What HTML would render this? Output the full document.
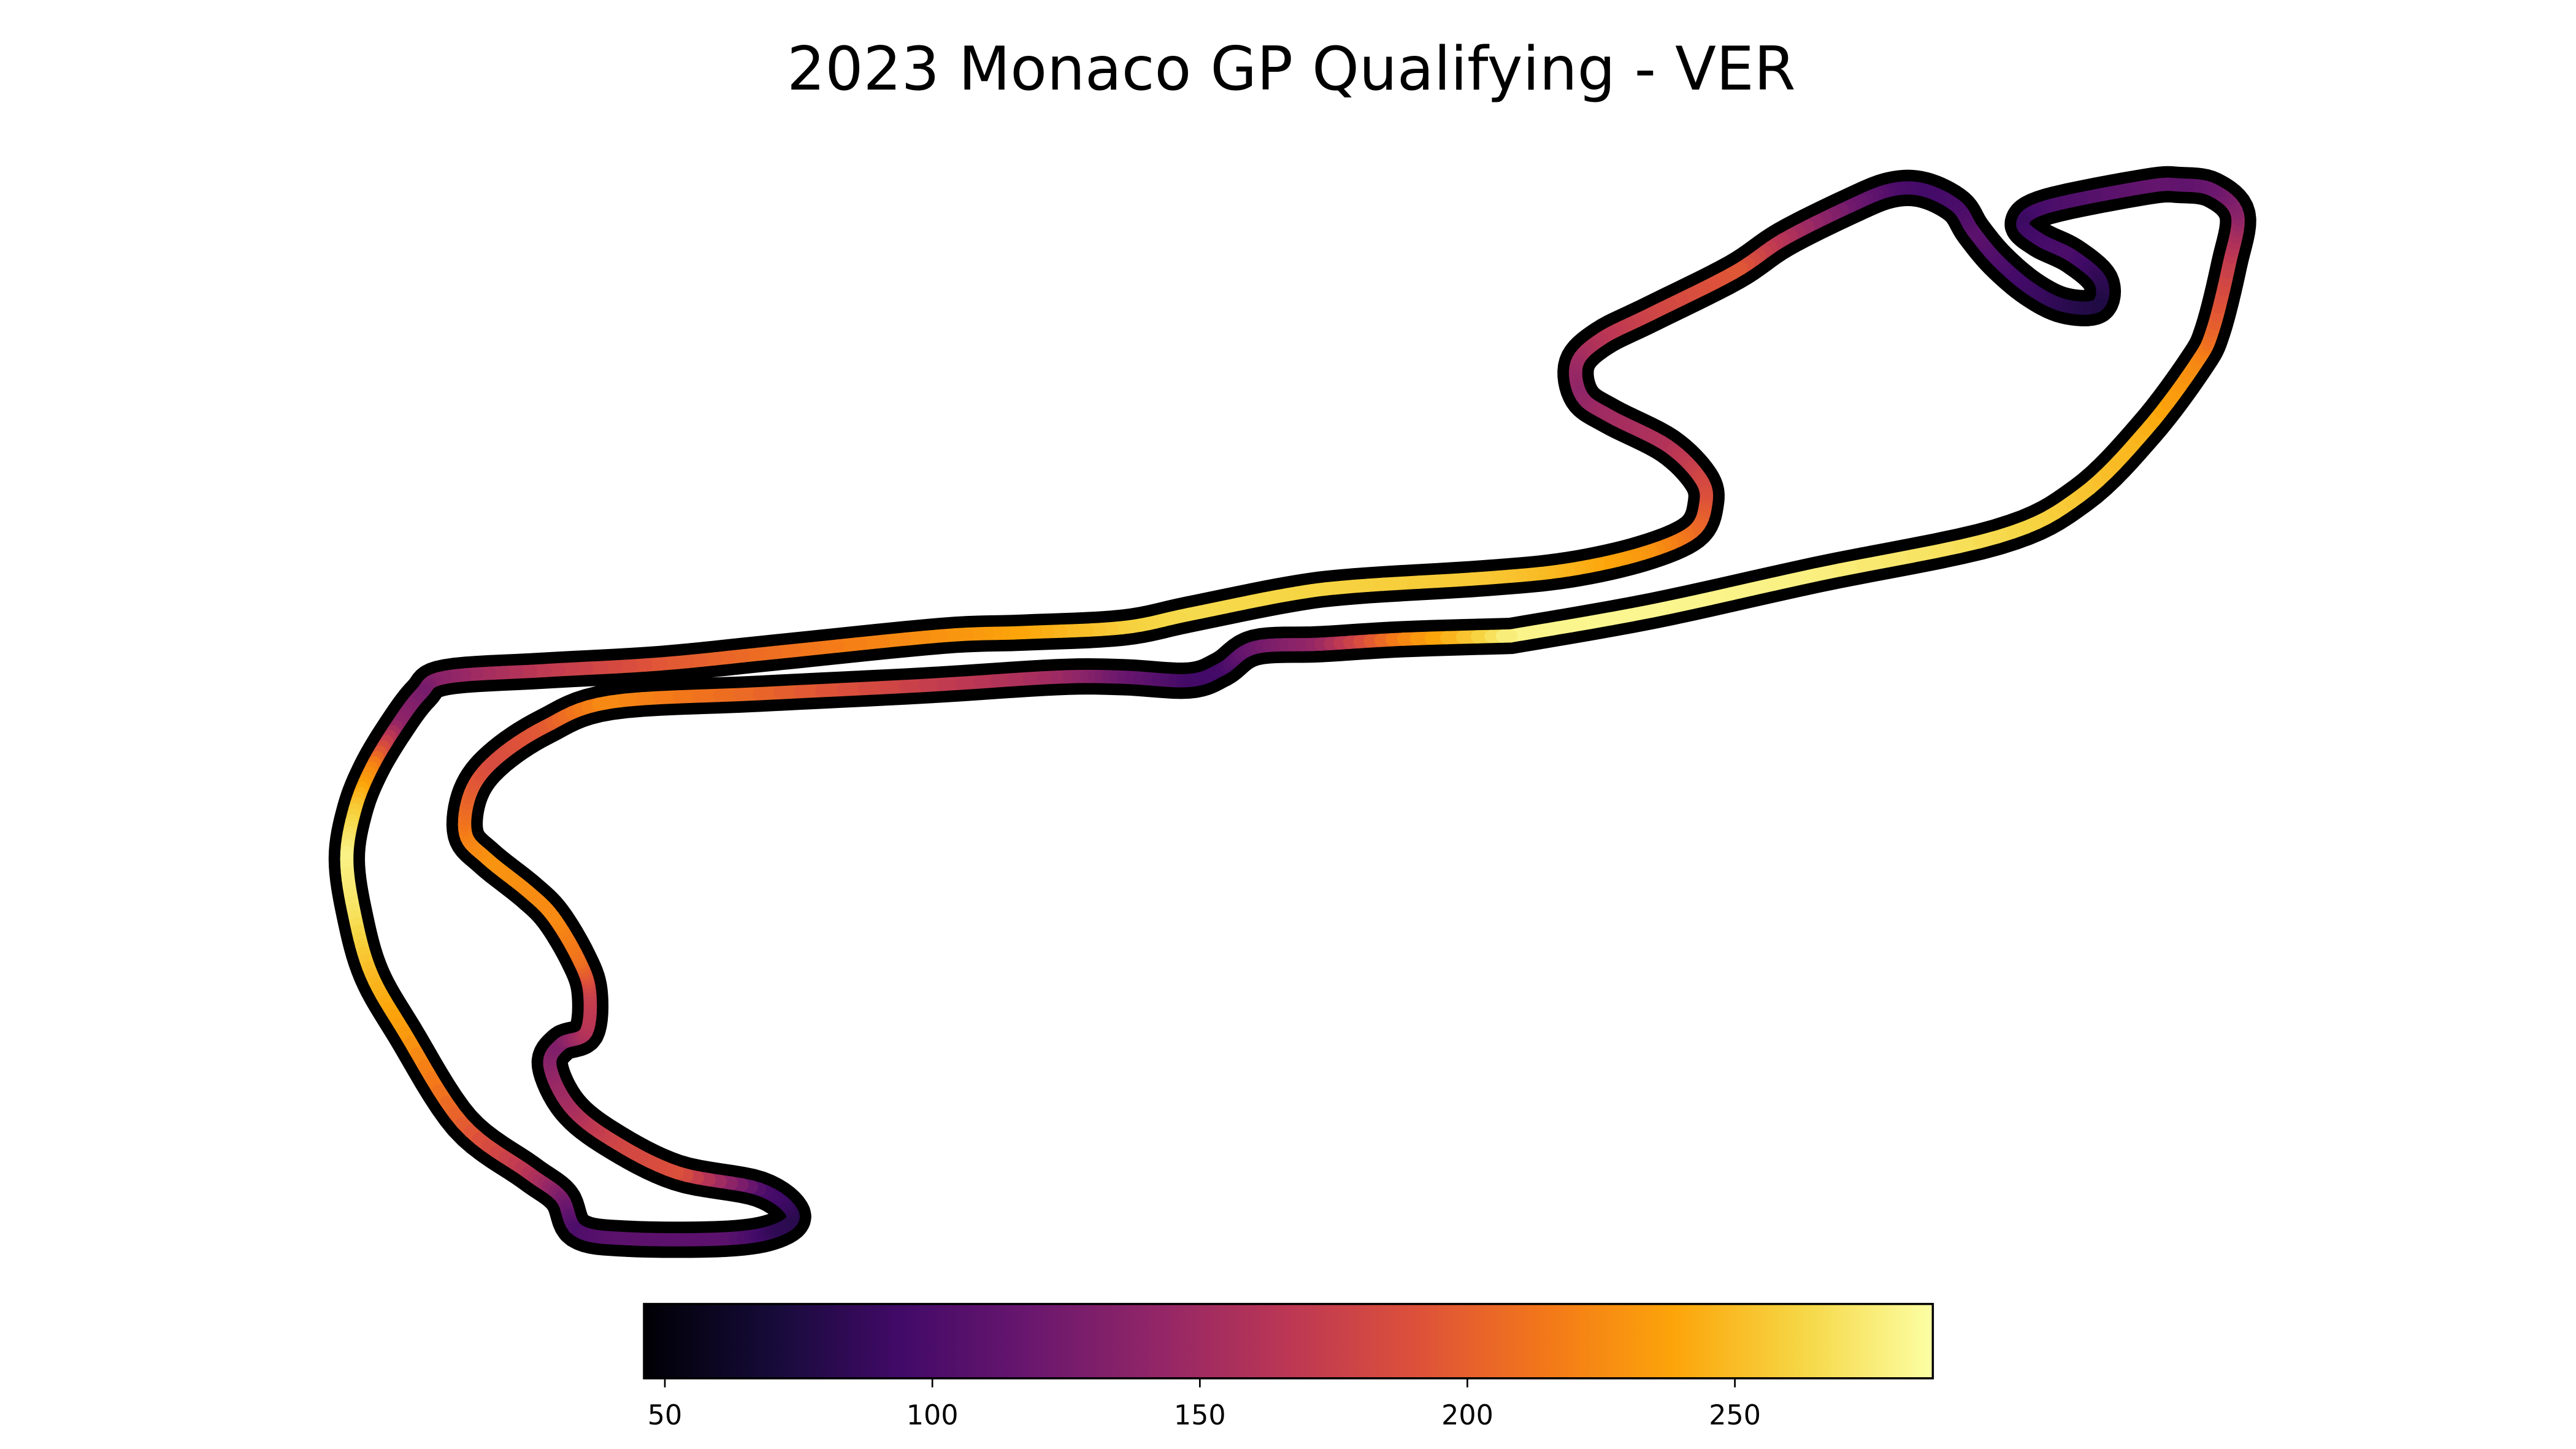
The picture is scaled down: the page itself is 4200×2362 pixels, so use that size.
<!DOCTYPE html>
<html><head><meta charset="utf-8"><style>
html,body{margin:0;padding:0;background:#fff;}
svg{display:block;}
text{font-family:"DejaVu Sans","Liberation Sans",sans-serif;}
</style></head><body>
<svg id="chart" width="4200" height="2362" viewBox="0 0 1560 877.3" xmlns="http://www.w3.org/2000/svg">
<rect width="1560" height="877.3" fill="#fff"/>
<text x="782" y="54.2" font-size="36.3" text-anchor="middle" fill="#000">2023 Monaco GP Qualifying - VER</text>
<g id="track-outline"></g>
<g id="track"></g>
<defs><linearGradient id="cbgrad" x1="0" x2="1" y1="0" y2="0"></linearGradient></defs>
<g id="colorbar"></g>
</svg>
<script>
// Track positions (chart coordinates) and speeds (km/h)
const trackX = [915,1000,1100,1210,1260,1300,1330,1340,1350,1355,1340,1320,1300,1240,1225,1235,1255,1272,1270,1250,1230,1210,1195,1185,1165,1145,1120,1080,1050,1000,970,955,958,975,1010,1030,1033,1025,995,950,900,820,780,720,680,620,570,470,400,330,270,255,240,225,215,210,215,225,245,280,320,340,350,380,440,470,480,460,410,370,345,333,340,355,357,350,335,320,295,282,285,300,330,370,460,560,640,680,720,740,760,800,850,915];
const trackY = [385,370,348,325,300,260,220,200,160,130,115,112,113,125,135,145,155,170,185,185,175,158,140,125,115,115,125,145,165,190,205,220,240,252,270,290,305,322,335,345,350,355,360,372,380,383,385,395,402,406,410,420,440,465,490,520,555,590,625,680,710,725,745,750,750,745,735,720,710,690,670,645,632,625,600,580,555,540,520,505,480,460,440,425,420,415,410,410,412,405,392,390,387,385];
const speeds = [280,282,278,265,255,245,225,205,175,140,120,112,115,100,90,95,100,85,75,80,90,100,110,100,95,100,120,160,195,180,165,150,140,150,160,180,190,205,230,245,255,260,262,265,260,240,230,210,195,170,140,125,140,220,255,280,270,250,235,200,165,130,100,110,110,85,80,100,190,180,155,140,130,160,175,210,225,225,230,220,200,185,195,225,205,175,150,120,95,95,120,145,220,280];
// Colorbar
const cbMin = 46.1, cbMax = 287;
const cbTicks = [50,100,150,200,250];
const cbLabels = ["50","100","150","200","250"];

const inferno = ["#000004","#160b39","#420a68","#6a176e","#932667","#bc3754","#dd513a","#f37819","#fca50a","#f6d746","#fcffa4"];
function hex(c){return [1,3,5].map(i=>parseInt(c.substr(i,2),16));}
function cmap(v){
  let t=(v-cbMin)/(cbMax-cbMin); t=Math.max(0,Math.min(1,t));
  const p=t*10, i=Math.min(9,Math.floor(p)), f=p-i;
  const a=hex(inferno[i]), b=hex(inferno[i+1]);
  return "rgb("+a.map((x,k)=>Math.round(x+(b[k]-x)*f)).join(",")+")";
}
const NS="http://www.w3.org/2000/svg";
const n=trackX.length;
function cr(arr,i,t){
  const p0=arr[Math.max(0,i-1)],p1=arr[i],p2=arr[Math.min(n-1,i+1)],p3=arr[Math.min(n-1,i+2)];
  const t2=t*t,t3=t2*t;
  return 0.5*((2*p1)+(-p0+p2)*t+(2*p0-5*p1+4*p2-p3)*t2+(-p0+3*p1-3*p2+p3)*t3);
}
const SUB=8;
const pts=[];
for(let i=0;i<n-1;i++){
  for(let s=0;s<SUB;s++){
    const t=s/SUB;
    pts.push([cr(trackX,i,t),cr(trackY,i,t),speeds[i]+(speeds[i+1]-speeds[i])*t]);
  }
}
pts.push([trackX[n-1],trackY[n-1],speeds[n-1]]);
// outline
const outline=document.getElementById('track-outline');
let d="";
pts.forEach((p,i)=>{d+=(i?"L":"M")+p[0].toFixed(2)+","+p[1].toFixed(2);});
const op=document.createElementNS(NS,'path');


op.setAttribute('d',d);op.setAttribute('fill','none');op.setAttribute('stroke','#000');
op.setAttribute('stroke-width','22');op.setAttribute('stroke-linejoin','round');op.setAttribute('stroke-linecap','round');
outline.appendChild(op);
// colored segments
const tg=document.getElementById('track');
for(let i=0;i<pts.length-1;i++){
  const a=pts[i],b=pts[i+1];
  const ln=document.createElementNS(NS,'line');
  
  
  ln.setAttribute('x1',a[0].toFixed(2));ln.setAttribute('y1',a[1].toFixed(2));ln.setAttribute('x2',b[0].toFixed(2));ln.setAttribute('y2',b[1].toFixed(2));
  ln.setAttribute('stroke',cmap((a[2]+b[2])/2));ln.setAttribute('stroke-width','8');ln.setAttribute('stroke-linecap','round');
  tg.appendChild(ln);
}
// colorbar
const cbL=390, cbR=1170.5, cbT=789.5, cbB=834.5;
const cbx = v=>cbL+(v-cbMin)/(cbMax-cbMin)*(cbR-cbL);
const grad=document.getElementById('cbgrad');
for(let i=0;i<=10;i++){const st=document.createElementNS(NS,'stop');st.setAttribute('offset',i/10);st.setAttribute('stop-color',inferno[i]);grad.appendChild(st);}
const cb=document.getElementById('colorbar');
const r=document.createElementNS(NS,'rect');


r.setAttribute('x',cbL);r.setAttribute('y',cbT);r.setAttribute('width',cbR-cbL);r.setAttribute('height',cbB-cbT);
r.setAttribute('fill','url(#cbgrad)');r.setAttribute('stroke','#000');r.setAttribute('stroke-width','1.3');
cb.appendChild(r);
cbTicks.forEach((t,i)=>{
  const x=cbx(t);
  const tk=document.createElementNS(NS,'line');
  
  
  tk.setAttribute('x1',x);tk.setAttribute('x2',x);tk.setAttribute('y1',cbB);tk.setAttribute('y2',cbB+5.5);
  tk.setAttribute('stroke','#000');tk.setAttribute('stroke-width','1');
  cb.appendChild(tk);
  const tx=document.createElementNS(NS,'text');
  
  
  tx.setAttribute('x',x);tx.setAttribute('y',cbB+28);tx.setAttribute('font-size','16.5');tx.setAttribute('text-anchor','middle');
  tx.textContent=cbLabels[i];
  cb.appendChild(tx);
});
</script>
</body></html>
